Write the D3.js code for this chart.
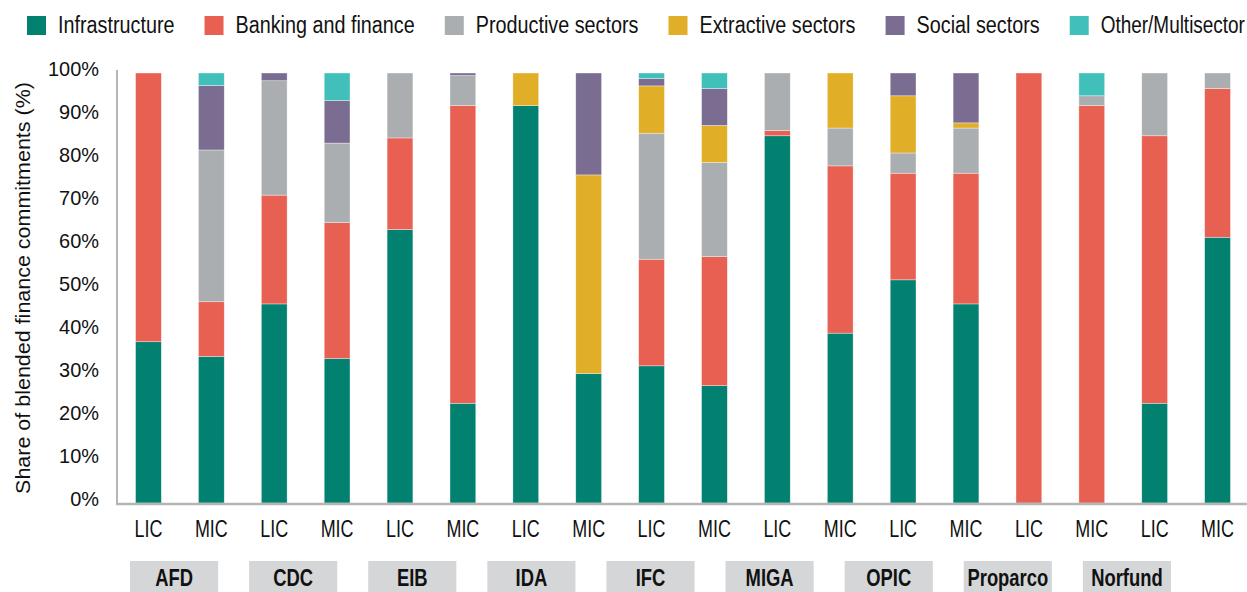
<!DOCTYPE html>
<html>
<head>
<meta charset="utf-8">
<script src="https://cdn.jsdelivr.net/npm/d3@7"></script>
<style>
  body { margin: 0; background: #fff; }
  svg { display: block; font-family: "Liberation Sans", Arial, sans-serif; }
</style>
</head>
<body>
<svg width="1247" height="592"></svg>
<script>
// agencies and income groups (one bar per agency x income)
var agencies = ['AFD', 'CDC', 'EIB', 'IDA', 'IFC', 'MIGA', 'OPIC', 'Proparco', 'Norfund'];
var incomes = ['LIC', 'MIC'];
var sectors = ['Infrastructure', 'Banking and finance', 'Productive sectors', 'Extractive sectors', 'Social sectors', 'Other/Multisector'];
var colors = ['#028070', '#e86052', '#abaeb0', '#e1ae28', '#7a6d91', '#40bfbb'];
var yTicks = [0, 10, 20, 30, 40, 50, 60, 70, 80, 90, 100];

// shares in %, order: AFD LIC, AFD MIC, CDC LIC, CDC MIC, ...
var infrastructure = [37.5, 34.1, 46.3, 33.6, 63.6, 23.2, 92.4, 30.1, 31.9, 27.3, 85.4, 39.5, 51.9, 46.3, 0, 0, 23.2, 61.8];
var banking        = [62.5, 12.7, 25.3, 31.6, 21.3, 69.2, 0, 0, 24.8, 30.0, 1.2, 38.9, 24.8, 30.4, 100, 92.4, 62.2, 34.6];
var productive     = [0, 35.3, 26.6, 18.5, 15.1, 7.0, 0, 0, 29.3, 21.9, 13.4, 8.8, 4.7, 10.5, 0, 2.3, 14.6, 3.6];
var extractive     = [0, 0, 0, 0, 0, 0, 7.6, 46.2, 11.0, 8.6, 0, 12.8, 13.3, 1.2, 0, 0, 0, 0];
var social         = [0, 15.0, 1.8, 9.9, 0, 0.6, 0, 23.7, 1.7, 8.6, 0, 0, 5.3, 11.6, 0, 0, 0, 0];
var other          = [0, 2.9, 0, 6.4, 0, 0, 0, 0, 1.3, 3.6, 0, 0, 0, 0, 0, 5.3, 0, 0];

var series = [infrastructure, banking, productive, extractive, social, other];

var rows = [];
agencies.forEach(function(a, i) {
  incomes.forEach(function(inc, j) {
    var k = i * 2 + j;
    var row = { key: a + '-' + inc, agency: a, income: inc };
    sectors.forEach(function(s, si) { row[s] = series[si][k]; });
    rows.push(row);
  });
});

var svg = d3.select('svg');

// condensed text: the original uses a condensed face, squeeze horizontally
var condText = function(parent, x, y, str, size, sx, anchor, bold, maxW) {
  var g = parent.append('g');
  var t = g.append('text')
    .attr('text-anchor', anchor || 'start')
    .attr('font-size', size)
    .attr('fill', '#111')
    .text(str);
  if (bold) t.attr('font-weight', 'bold');
  var len = t.node().getComputedTextLength();
  if (maxW && len * sx > maxW) sx = maxW / len;
  g.attr('transform', 'translate(' + x + ',' + y + ') scale(' + sx + ',1)');
  return len * sx;
};

var x = d3.scaleBand()
  .domain(rows.map(function(d) { return d.key; }))
  .range([117, 1249])
  .paddingInner(0.59)
  .paddingOuter(0.295);

var y = d3.scaleLinear().domain([0, 100]).range([503, 73]);

var color = d3.scaleOrdinal().domain(sectors).range(colors);

var stack = d3.stack().keys(sectors);
var layers = stack(rows);

// bars
svg.append('g').selectAll('g')
  .data(layers)
  .enter().append('g')
  .attr('fill', function(d) { return color(d.key); })
  .selectAll('rect')
  .data(function(d) { return d.filter(function(p) { return p[1] - p[0] > 0; }); })
  .enter().append('rect')
  .attr('x', function(d) { return x(d.data.key); })
  .attr('width', x.bandwidth())
  .attr('y', function(d) { return y(d[1]); })
  .attr('height', function(d) { return y(d[0]) - y(d[1]); })
  .attr('stroke', '#ffffff')
  .attr('stroke-opacity', 0.6)
  .attr('stroke-width', 0.6);

// axis lines
svg.append('line')
  .attr('x1', 117).attr('x2', 117)
  .attr('y1', y(100) - 3).attr('y2', y(0) + 1)
  .attr('stroke', '#b5b5b5').attr('stroke-width', 2);
svg.append('line')
  .attr('x1', 116).attr('x2', 1247)
  .attr('y1', y(0) + 1).attr('y2', y(0) + 1)
  .attr('stroke', '#b5b5b5').attr('stroke-width', 2.5);

// y tick labels
var tickG = svg.append('g');
yTicks.forEach(function(d) {
  condText(tickG, 99, y(d) + 3, d + '%', 21, 0.95, 'end');
});

// y title
var titleG = svg.append('g').attr('transform', 'translate(30,' + y(50) + ') rotate(-90)');
var title = titleG.append('text')
  .attr('text-anchor', 'middle')
  .attr('font-size', 21)
  .attr('fill', '#111')
  .text('Share of blended finance commitments (%)');
var tl = title.node().getComputedTextLength();
title.attr('transform', 'scale(' + (412 / tl) + ',1)');

// LIC / MIC labels
var incG = svg.append('g');
rows.forEach(function(d) {
  condText(incG, x(d.key) + x.bandwidth() / 2, 537, d.income, 23, 0.78, 'middle');
});

// agency boxes
var gx = d3.scaleBand()
  .domain(agencies)
  .range([130, 1171])
  .paddingInner(0.26);

var boxes = svg.append('g');
agencies.forEach(function(a) {
  boxes.append('rect')
    .attr('x', gx(a))
    .attr('y', 561)
    .attr('width', gx.bandwidth())
    .attr('height', 31)
    .attr('fill', '#d5d6d8');
  condText(boxes, gx(a) + gx.bandwidth() / 2, 586, a, 23, 0.8, 'middle', true);
});

// legend
var legend = svg.append('g');
var lx = 27;
sectors.forEach(function(s) {
  legend.append('rect')
    .attr('x', lx).attr('y', 16)
    .attr('width', 19).attr('height', 19)
    .attr('fill', color(s));
  var w = condText(legend, lx + 31, 33, s, 23, 0.86, 'start', false, 1245 - (lx + 31));
  lx += 31 + w + 30;
});
</script>
</body>
</html>
